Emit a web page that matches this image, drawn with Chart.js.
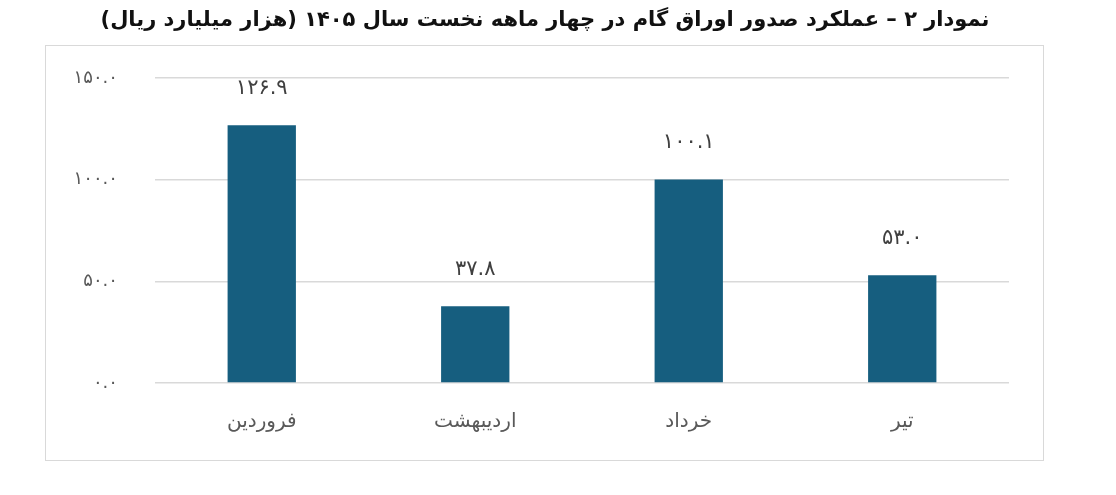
<!DOCTYPE html>
<html lang="fa">
<head>
<meta charset="utf-8">
<script src="https://cdn.jsdelivr.net/npm/chart.js@4.4.1/dist/chart.umd.min.js"></script>
<style>
  html, body { margin: 0; padding: 0; background: #ffffff; }
  #wrap { position: relative; width: 1116px; height: 495px; }
  #c { position: absolute; left: 0; top: 0; direction: rtl; }
  #frame { position: absolute; left: 45px; top: 45px; width: 997px; height: 414px; border: 1px solid #d9d9d9; pointer-events: none; }
</style>
</head>
<body>
<div id="wrap">
  <canvas id="c" width="1116" height="495" dir="rtl"></canvas>
  <div id="frame"></div>
</div>
<script>
const titleText = 'نمودار ۲ – عملکرد صدور اوراق گام در چهار ماهه نخست سال ۱۴۰۵ (هزار میلیارد ریال)';
const categories = ['فروردین', 'اردیبهشت', 'خرداد', 'تیر'];
const issuance = [126.9, 37.8, 100.1, 53.0];
const yTicks = [0, 50, 100, 150];

const faDigits = '۰۱۲۳۴۵۶۷۸۹';
function toFa(v) {
  return Number(v).toFixed(1).replace(/[0-9]/g, d => faDigits[+d]);
}

const valueLabels = {
  id: 'valueLabels',
  afterDatasetsDraw(chart) {
    const ctx = chart.ctx;
    const meta = chart.getDatasetMeta(0);
    ctx.save();
    ctx.font = '21px "DejaVu Sans"';
    ctx.fillStyle = '#404040';
    ctx.textAlign = 'center';
    ctx.textBaseline = 'middle';
    meta.data.forEach((bar, i) => {
      ctx.fillText(toFa(chart.data.datasets[0].data[i]), bar.x, bar.y - 37);
    });
    ctx.restore();
  }
};

// let the y tick labels extend left of the (narrow) axis box without clipping
const unclipY = {
  id: 'unclipY',
  afterLayout(chart) { chart.scales.y.left = 0; }
};

new Chart(document.getElementById('c'), {
  type: 'bar',
  data: {
    labels: categories,
    datasets: [{
      data: issuance,
      backgroundColor: '#165e7f',
      borderWidth: 0,
      barPercentage: 0.64,
      categoryPercentage: 0.5
    }]
  },
  options: {
    responsive: false,
    animation: false,
    devicePixelRatio: 1,
    layout: { padding: { left: 81, right: 107, top: 0, bottom: 52 } },
    plugins: {
      legend: { display: false },
      tooltip: { enabled: false },
      title: {
        display: true,
        text: titleText,
        color: '#111111',
        font: { family: 'DejaVu Sans', size: 21, weight: 'bold', lineHeight: 1.2 },
        padding: { top: 8, bottom: 45 }
      }
    },
    scales: {
      x: {
        afterFit(s) { s.height = 60; },
        grid: { display: false, drawTicks: false },
        border: { display: false },
        ticks: { color: '#595959', font: { family: 'DejaVu Sans', size: 20 }, padding: 27 }
      },
      y: {
        min: 0,
        max: 150,
        afterFit(s) { s.width = 74; },
        afterBuildTicks(s) { s.ticks = yTicks.map(v => ({ value: v })); },
        grid: { color: '#d9d9d9', lineWidth: 1.5, drawTicks: false },
        border: { display: false },
        ticks: {
          color: '#595959',
          font: { family: 'DejaVu Sans', size: 18 },
          padding: 37,
          callback: v => toFa(v)
        }
      }
    }
  },
  plugins: [valueLabels, unclipY]
});
</script>
</body>
</html>
